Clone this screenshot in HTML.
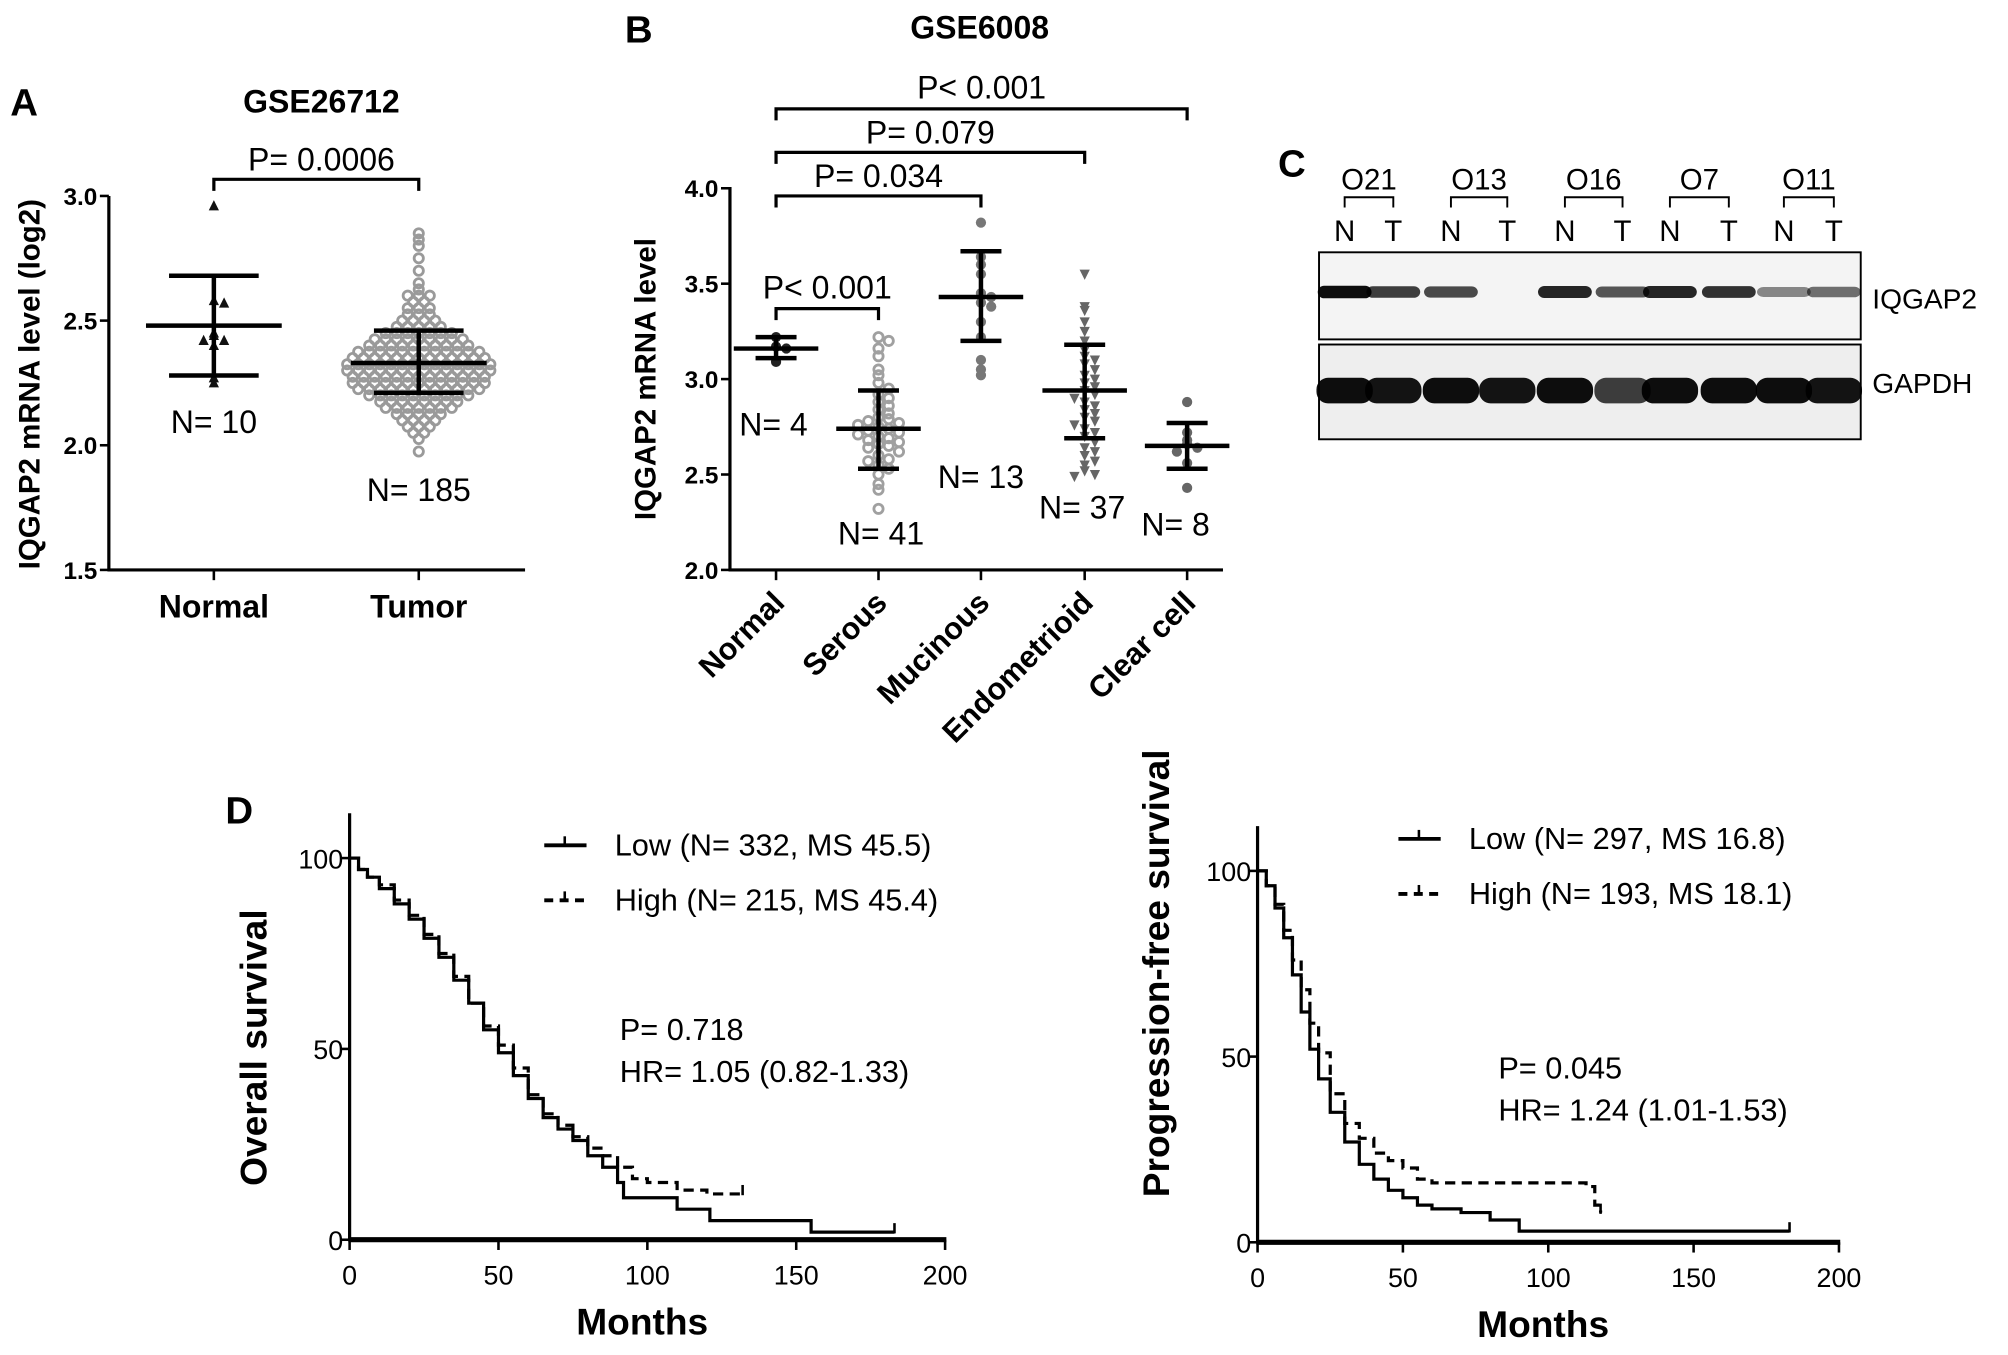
<!DOCTYPE html>
<html><head><meta charset="utf-8"><style>
html,body{margin:0;padding:0;background:#fff}
svg{display:block}
text{font-family:"Liberation Sans",Arial,sans-serif}
</style></head><body>
<svg id="fig" width="2008" height="1355" viewBox="0 0 1568 1058" preserveAspectRatio="none" xmlns="http://www.w3.org/2000/svg">
<rect width="1568" height="1058" fill="#fff"/>
<g id="gA"></g>
<g id="gB"></g>
<g id="gC"></g>
<g id="gD"></g>
</svg>
<script>
// ---------- Panel A data ----------
const aCategories = ["Normal","Tumor"];
const aNormalValues = [2.96,2.58,2.57,2.45,2.44,2.42,2.42,2.40,2.27,2.25];
const aNormalStats = [2.48,2.28,2.68]; // mean, low, high
const aTumorBinCenters = [1.975,2.025,2.05,2.075,2.1,2.125,2.15,2.175,2.2,2.225,2.25,2.275,2.3,2.325,2.35,2.375,2.4,2.425,2.45,2.475,2.5,2.525,2.55,2.575,2.6,2.625,2.65,2.7,2.75,2.8,2.825,2.85];
const aTumorBinCounts  = [1,1,2,3,4,5,7,8,10,12,13,13,14,14,13,12,10,9,7,5,4,3,3,2,3,1,1,1,1,1,1,1];
const aTumorStats = [2.33,2.21,2.46];
const aYTicks = [1.5,2.0,2.5,3.0];
const aN = ["N= 10","N= 185"];
// ---------- Panel B data ----------
const bCategories = ["Normal","Serous","Mucinous","Endometrioid","Clear cell"];
const bNormal = [3.22,3.17,3.16,3.09];
const bSerous = [3.22,3.20,3.16,3.12,3.05,3.02,2.98,2.95,2.92,2.90,2.88,2.86,2.84,2.82,2.80,2.79,2.78,2.77,2.76,2.75,2.74,2.73,2.72,2.71,2.70,2.69,2.68,2.67,2.66,2.65,2.64,2.62,2.60,2.58,2.57,2.55,2.53,2.50,2.45,2.42,2.32];
const bMucinous = [3.82,3.64,3.60,3.55,3.45,3.43,3.40,3.38,3.30,3.22,3.10,3.05,3.02];
const bEndo = [3.55,3.38,3.36,3.30,3.25,3.20,3.15,3.12,3.10,3.08,3.05,3.02,3.00,2.98,2.96,2.94,2.92,2.90,2.88,2.86,2.84,2.82,2.80,2.78,2.76,2.74,2.72,2.70,2.67,2.64,2.62,2.60,2.57,2.55,2.52,2.50,2.49];
const bClear = [2.88,2.72,2.68,2.66,2.64,2.62,2.56,2.43];
const bStats = [[3.16,3.11,3.22],[2.74,2.53,2.94],[3.43,3.20,3.67],[2.94,2.69,3.18],[2.65,2.53,2.77]];
const bN = ["N= 4","N= 41","N= 13","N= 37","N= 8"];
const bYTicks = [2.0,2.5,3.0,3.5,4.0];
// ---------- Panel D data ----------
const osLowT = [0,3,6,10,15,20,25,30,35,40,45,50,55,60,65,70,75,80,85,90,92,108,110,120,121,155,183];
const osLowS = [100,97,95,92,88,84,79,74,68,62,55,49,43,37,32,29,26,22,19,15,11,11,8,8,5,2,2];
const osHighT = [0,3,6,10,15,20,25,30,35,40,45,50,55,60,65,70,75,80,85,90,95,100,110,120,132];
const osHighS = [100,97,95,93,89,85,80,75,69,62,56,51,45,38,33,30,27,24,22,19,16,15,13,12,12];
const pfsLowT = [0,3,6,9,12,15,18,21,25,30,35,40,45,50,55,60,70,80,90,183];
const pfsLowS = [100,96,90,82,72,62,52,44,35,27,21,17,14,12,10,9,8,6,3,3];
const pfsHighT = [0,3,6,9,12,15,18,21,25,30,35,40,45,50,55,60,80,100,113,116,118];
const pfsHighS = [100,96,91,84,76,68,59,51,40,32,28,24,22,20,17,16,16,16,15,10,8];
const dTicksX = [0,50,100,150,200];
const dTicksY = [0,50,100];

const NS="http://www.w3.org/2000/svg";
function el(parent,tag,attrs,txt){const e=document.createElementNS(NS,tag);for(const k in attrs)e.setAttribute(k,attrs[k]);if(txt!==undefined)e.textContent=txt;parent.appendChild(e);return e;}
function line(p,x1,y1,x2,y2,w,c){return el(p,"line",{x1,y1,x2,y2,stroke:c||"#000","stroke-width":w||2});}

// ================= Panel A =================
(function(){
 const g=document.getElementById("gA");
 const y=v=>445-(v-1.5)/1.5*292;
 const xc=[167,327];
 let t=el(g,"text",{x:8,y:90,"font-size":30,"font-weight":"bold"},"A");
 
 t=el(g,"text",{x:251,y:88,"font-size":25,"font-weight":"bold","text-anchor":"middle"},"GSE26712");
 
 t=el(g,"text",{x:0,y:0,"font-size":23,"font-weight":"bold","text-anchor":"middle",transform:"translate(31,300) rotate(-90)"},"IQGAP2 mRNA level (log2)");
 
 let ax=line(g,85,153,85,446,2.5);
 ax=line(g,84,445,410,445,2.5);
 aYTicks.forEach(v=>{line(g,78,y(v),85,y(v),2);
  const tt=el(g,"text",{x:76,y:y(v)+7,"font-size":19,"text-anchor":"end","font-weight":"bold"},v.toFixed(1));
  });
 aCategories.forEach((c,i)=>{line(g,xc[i],445,xc[i],453,2);
  const tt=el(g,"text",{x:xc[i],y:482,"font-size":25,"font-weight":"bold","text-anchor":"middle"},c);
  });
 aTumorBinCenters.forEach((v,i)=>{const n=aTumorBinCounts[i];for(let k=0;k<n;k++){
  const cx=xc[1]+(k-(n-1)/2)*8.6;
  const c=el(g,"circle",{cx,cy:y(v),r:3.6,fill:"none",stroke:"#9a9a9a","stroke-width":2.2});
  }});
 const used={};
 aNormalValues.forEach(v=>{const key=Math.round(y(v)/6);used[key]=(used[key]||0)+1;const k=used[key]-1;
  const cx=xc[0]+(k%2?1:-1)*Math.ceil(k/2)*8;const cy=y(v);
  const p=el(g,"path",{d:`M${cx},${cy-4.5}L${cx+4},${cy+3.5}L${cx-4},${cy+3.5}Z`,fill:"#111"});
  });
 [[aNormalStats,53],[aTumorStats,53]].forEach(([s,w],i)=>{const x=xc[i];
  line(g,x,y(s[1]),x,y(s[2]),3.5);line(g,x-w,y(s[0]),x+w,y(s[0]),3.5);
  line(g,x-35,y(s[1]),x+35,y(s[1]),3.5);line(g,x-35,y(s[2]),x+35,y(s[2]),3.5);});
 aN.forEach((n,i)=>{const tt=el(g,"text",{x:xc[i],y:i?391:338,"font-size":25,"text-anchor":"middle"},n);
  });
 el(g,"path",{d:`M${xc[0]},149V140H${xc[1]}V149`,fill:"none",stroke:"#000","stroke-width":2.5});
 t=el(g,"text",{x:251,y:133,"font-size":25,"text-anchor":"middle"},"P= 0.0006");
 
})();

// ================= Panel B =================
(function(){
 const g=document.getElementById("gB");
 const y=v=>445-(v-2)/2*298;
 const xc=[606,686,766,847,927];
 let t=el(g,"text",{x:488,y:33,"font-size":30,"font-weight":"bold"},"B");
 
 t=el(g,"text",{x:765,y:30,"font-size":25,"font-weight":"bold","text-anchor":"middle"},"GSE6008");
 
 t=el(g,"text",{x:0,y:0,"font-size":23,"font-weight":"bold","text-anchor":"middle",transform:"translate(512,296) rotate(-90)"},"IQGAP2 mRNA level");
 
 let ax=line(g,570,146,570,446,2.5);
 ax=line(g,569,445,955,445,2.5);
 bYTicks.forEach(v=>{line(g,563,y(v),570,y(v),2);
  const tt=el(g,"text",{x:561,y:y(v)+7,"font-size":19,"font-weight":"bold","text-anchor":"end"},v.toFixed(1));
  });
 bCategories.forEach((c,i)=>{line(g,xc[i],445,xc[i],453,2);
  const tt=el(g,"text",{x:0,y:0,"font-size":24,"font-weight":"bold","text-anchor":"end",transform:`translate(${xc[i]+8},${472}) rotate(-45)`},c);
  });
 const groups=[bNormal,bSerous,bMucinous,bEndo,bClear];
 const styles=[["circle","#222"],["ring","#a0a0a0"],["sq","#777"],["tri","#666"],["circle","#666"]];
 groups.forEach((arr,gi)=>{const used={};arr.forEach(v=>{const key=Math.round(y(v)/7);used[key]=(used[key]||0)+1;const k=used[key]-1;
  const cx=xc[gi]+(k%2?1:-1)*Math.ceil(k/2)*8;const cy=y(v);const [s,col]=styles[gi];let p;
  if(s==="circle")p=el(g,"circle",{cx,cy,r:4,fill:col});
  else if(s==="ring")p=el(g,"circle",{cx,cy,r:3.6,fill:"none",stroke:col,"stroke-width":2.2});
  else if(s==="sq")p=el(g,"circle",{cx,cy,r:4,fill:col});
  else p=el(g,"path",{d:`M${cx-4},${cy-3.5}L${cx+4},${cy-3.5}L${cx},${cy+4.5}Z`,fill:col});
  
  });});
 bStats.forEach((s,i)=>{const x=xc[i];
  line(g,x,y(s[1]),x,y(s[2]),3.5);line(g,x-33,y(s[0]),x+33,y(s[0]),3.5);
  line(g,x-16,y(s[1]),x+16,y(s[1]),3.5);line(g,x-16,y(s[2]),x+16,y(s[2]),3.5);});
 const nPos=[[604,340],[688,425],[766,381],[845,405],[918,418]];
 bN.forEach((n,i)=>{const tt=el(g,"text",{x:nPos[i][0],y:nPos[i][1],"font-size":25,"text-anchor":"middle"},n);
  });
 const br=[[1,"P< 0.001",241,233],[2,"P= 0.034",153,146],[3,"P= 0.079",119,112],[4,"P< 0.001",85,77]];
 br.forEach(([j,txt,by,ty])=>{const b=el(g,"path",{d:`M${xc[0]},${by+9}V${by}H${xc[j]}V${by+9}`,fill:"none",stroke:"#000","stroke-width":2.5});
  
  const tt=el(g,"text",{x:(xc[0]+xc[j])/2,y:ty,"font-size":25,"text-anchor":"middle"},txt);
  });
})();

// ================= Panel C =================
(function(){
 const g=document.getElementById("gC");
 let t=el(g,"text",{x:998,y:138,"font-size":30,"font-weight":"bold"},"C");
 
 const samples=["O21","O13","O16","O7","O11"];
 const nx=[1050,1133,1222,1304,1393],tx=[1088,1177,1267,1350,1432];
 const iq=[0.95,0.75,0.7,0.0,0.85,0.65,0.85,0.8,0.45,0.55];
 const gp=[0.95,0.92,0.95,0.92,0.95,0.75,0.95,0.95,0.95,0.92];
 samples.forEach((s,i)=>{const tt=el(g,"text",{x:(nx[i]+tx[i])/2,y:148,"font-size":23,"text-anchor":"middle"},s);
  
  el(g,"path",{d:`M${nx[i]},162V154H${tx[i]}V162`,fill:"none",stroke:"#000","stroke-width":1.5});
  [["N",nx[i]],["T",tx[i]]].forEach(([l,x])=>{const q=el(g,"text",{x,y:188,"font-size":23,"text-anchor":"middle"},l);
   });});
 let b1=el(g,"rect",{x:1030,y:197,width:423,height:68,fill:"#f4f4f4",stroke:"#000","stroke-width":1.5});
 
 let b2=el(g,"rect",{x:1030,y:269,width:423,height:74,fill:"#eee",stroke:"#000","stroke-width":1.5});
 
 const lanes=[];nx.forEach((x,i)=>{lanes.push(x,tx[i]);});
 lanes.forEach((x,i)=>{if(iq[i]>0)el(g,"rect",{x:x-21,y:225-iq[i]*2,width:42,height:6+iq[i]*4,rx:5,fill:"#000","fill-opacity":iq[i]});
  el(g,"rect",{x:x-22,y:295,width:44,height:20,rx:9,fill:"#000","fill-opacity":gp[i]});});
 [["IQGAP2",241],["GAPDH",307]].forEach(([l,yy])=>{const q=el(g,"text",{x:1462,y:yy,"font-size":22},l);
  });
})();

// ================= Panel D =================
function km(g,ox,oy,w,h,lowT,lowS,highT,highS,yTitle,leg,stats,legX,legY,statX,statY,titleX,titleY){
 const x=v=>ox+v/200*w, y=v=>oy-v/100*h;
 let ax=line(g,ox,oy-h-35,ox,oy+1,2.5);
 ax=line(g,ox-1,oy,ox+w+1,oy,4);
 dTicksX.forEach(v=>{line(g,x(v),oy,x(v),oy+8,2);
  const t=el(g,"text",{x:x(v),y:oy+35,"font-size":21,"text-anchor":"middle"},v);
  });
 dTicksY.forEach(v=>{line(g,ox-6,y(v),ox,y(v),2);
  const t=el(g,"text",{x:ox-5,y:y(v)+8,"font-size":21,"text-anchor":"end"},v);
  });
 let t=el(g,"text",{x:ox+w/2-4,y:oy+74,"font-size":29,"font-weight":"bold","text-anchor":"middle"},"Months");
 
 t=el(g,"text",{x:0,y:0,"font-size":29,"font-weight":"bold","text-anchor":"middle",transform:`translate(${titleX},${titleY}) rotate(-90)`},yTitle);
 
 function step(T,S,dash,name){let d=`M${x(T[0])},${y(S[0])}`;for(let i=1;i<T.length;i++){d+=`H${x(T[i])}V${y(S[i])}`;}
  const p=el(g,"path",{d,fill:"none",stroke:"#000","stroke-width":2.5,"stroke-dasharray":dash?"8,5":"none"});
  
  const L=T.length-1;line(g,x(T[L]),y(S[L])-7,x(T[L]),y(S[L])+1,2);}
 step(highT,highS,true,"high-curve");step(lowT,lowS,false,"low-curve");
 leg.forEach((l,i)=>{const yy=legY+i*43;
  el(g,"line",{x1:legX,y1:yy,x2:legX+33,y2:yy,stroke:"#000","stroke-width":3,"stroke-dasharray":i?"7,5":"none"});
  line(g,legX+16,yy-7,legX+16,yy,2);
  const q=el(g,"text",{x:legX+55,y:yy+8,"font-size":24},l);
  });
 stats.forEach((s,i)=>{const q=el(g,"text",{x:statX,y:statY+i*33,"font-size":24},s);
  });
}
(function(){
 const g=document.getElementById("gD");
 let t=el(g,"text",{x:176,y:643,"font-size":30,"font-weight":"bold"},"D");
 
 const g1=el(g,"g",{});
 km(g1,273,968,465,298,osLowT,osLowS,osHighT,osHighS,"Overall survival",["Low (N= 332, MS 45.5)","High (N= 215, MS 45.4)"],["P= 0.718","HR= 1.05 (0.82-1.33)"],425,660,484,812,208,818);
 const g2=el(g,"g",{});
 km(g2,982,970,454,290,pfsLowT,pfsLowS,pfsHighT,pfsHighS,"Progression-free survival",["Low (N= 297, MS 16.8)","High (N= 193, MS 18.1)"],["P= 0.045","HR= 1.24 (1.01-1.53)"],1092,655,1170,842,913,760);
})();
</script>
</body></html>
